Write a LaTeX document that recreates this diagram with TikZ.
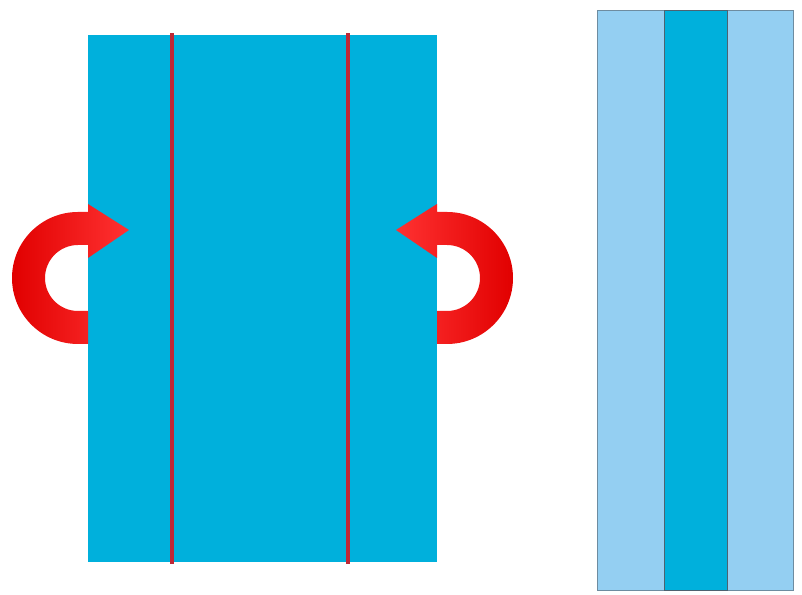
\documentclass[tikz,border=0pt]{standalone}
\definecolor{sheetcyan}{RGB}{0, 176, 220}
\definecolor{foldred}{RGB}{190, 40, 55}
\definecolor{paleblue}{RGB}{148, 207, 242}
\definecolor{edgegray}{RGB}{110, 140, 160}
\definecolor{arrowdark}{RGB}{225, 0, 0}
\definecolor{arrowlight}{RGB}{255, 50, 50}
\usepackage{tikz}
\usetikzlibrary{calc}

\tikzset{
  sheet/.style={fill=sheetcyan, draw=none},
  foldline/.style={draw=foldred, line width=3pt},
  panel/.style={fill=paleblue, draw=edgegray, line width=0.8pt},
  midpanel/.style={fill=sheetcyan, draw=edgegray!70!black, line width=0.8pt},
  turnarrow/.style={draw=none}
}

\begin{document}
\begin{tikzpicture}[x=0.03cm, y=0.03cm]
  \useasboundingbox (0,0) rectangle (802,595);

  % Flat sheet with the two fold lines
  \path[sheet] (88,33) rectangle (437,560);
  \coordinate (foldL) at (172,31);
  \coordinate (foldR) at (348,31);
  \draw[foldline] (foldL) -- ($(foldL)+(0,531)$);
  \draw[foldline] (foldR) -- ($(foldR)+(0,531)$);

  % Left turn arrow
  \path[turnarrow, left color=arrowdark, right color=arrowlight]
    (88,251) -- (78,251) arc[start angle=-90, end angle=-270, radius=66]
    -- (88,383) -- (88,391) -- (129,365) -- (88,337) -- (88,350)
    -- (78,350) arc[start angle=90, end angle=270, radius=33]
    -- (88,284) -- cycle;

  % Right turn arrow
  \path[turnarrow, right color=arrowdark, left color=arrowlight]
    (437,251) -- (447,251) arc[start angle=-90, end angle=90, radius=66]
    -- (437,383) -- (437,391) -- (396,365) -- (437,337) -- (437,350)
    -- (447,350) arc[start angle=90, end angle=-90, radius=33]
    -- (437,284) -- cycle;

  % Folded result
  \draw[panel] (597,5) rectangle (793,585);
  \draw[midpanel] (664,5) rectangle (727,585);
\end{tikzpicture}
\end{document}
